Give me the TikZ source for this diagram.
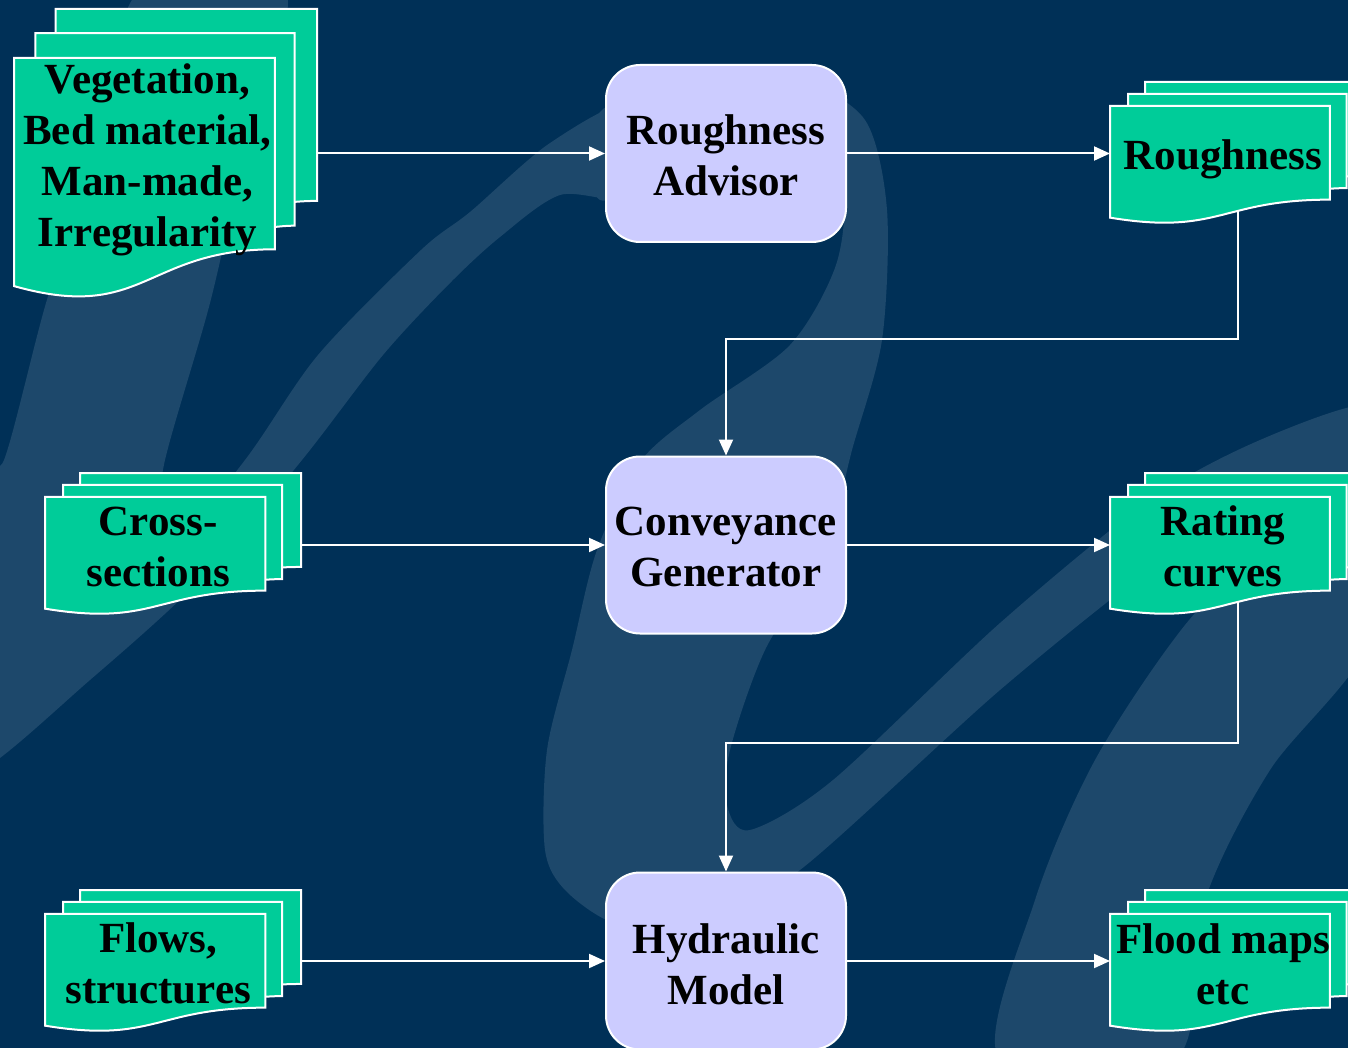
\documentclass[tikz,border=0pt]{standalone}
\usepackage{fontspec}
\setmainfont{Liberation Serif}
\usetikzlibrary{arrows.meta,calc}
\definecolor{bgblue}{RGB}{0,48,87}
\definecolor{swoosh}{RGB}{29,72,107}
\definecolor{docgreen}{RGB}{0,204,153}
\definecolor{procfill}{RGB}{204,204,255}
\pgfdeclarelayer{bglayer}
\pgfdeclarelayer{edgelayer}
\pgfsetlayers{bglayer,edgelayer,main}
\tikzset{
  bigfont/.style={font=\fontsize{43}{51}\selectfont\bfseries},
  proc/.style={draw=white, line width=2pt, fill=procfill, rounded corners=34pt,
    minimum width=240pt, minimum height=177pt, inner sep=0pt},
  proctext/.style={bigfont, align=center, inner sep=0pt},
  docfill/.style={fill=docgreen},
  docline/.style={draw=white, line width=2pt, line join=miter},
  doctext/.style={bigfont, align=center, inner sep=0pt},
  bbox/.style={inner sep=0pt, outer sep=0pt, draw=none, fill=none},
  conn/.style={draw=white, line width=2pt, -{Triangle[length=16pt,width=14pt]}},
  swooshfill/.style={fill=swoosh},
}
% name, x0, y0, width, height, text, text y-offset
\newcommand\mdoc[7]{%
  \begin{scope}[shift={(#2,#3)}, xscale=#4, yscale=#5]
    \fill[docfill] (0.137593,0.084028) -- (0.137593,0) -- (1,0) -- (1,0.666296)
      .. controls (0.962963,0.666296) and (0.925926,0.669769) .. (0.925926,0.669769)
      -- (0.925926,0.084028) -- cycle;
    \draw[docline] (0.137593,0.084028) -- (0.137593,0) -- (1,0) -- (1,0.666296)
      .. controls (0.962963,0.666296) and (0.925926,0.669769) .. (0.925926,0.669769);
    \fill[docfill] (0.070926,0.170139) -- (0.070926,0.084028) -- (0.925926,0.084028) -- (0.925926,0.752407)
      .. controls (0.893426,0.752407) and (0.860880,0.757037) .. (0.860880,0.757037)
      -- (0.860880,0.170139) -- cycle;
    \draw[docline] (0.070926,0.170139) -- (0.070926,0.084028) -- (0.925926,0.084028) -- (0.925926,0.752407)
      .. controls (0.893426,0.752407) and (0.860880,0.757037) .. (0.860880,0.757037);
    \filldraw[docfill, docline] (0,0.170139) -- (0.860880,0.170139) -- (0.860880,0.834352)
      .. controls (0.430463,0.834352) and (0.430463,1.089907) .. (0,0.962130) -- cycle;
  \end{scope}
  \node[bbox, minimum width=#4pt, minimum height=#5pt] (#1) at ({#2+#4/2},{#3+#5/2}) {};
  \node[doctext] (#1-text) at ({#2+0.43044*#4+3},{#3+0.502245*#5+#7}) {#6};
}
\begin{document}
\begin{tikzpicture}[x=1pt,y=-1pt]
\useasboundingbox (0,0) rectangle (1348,1048);
\begin{pgfonlayer}{bglayer}
  \fill[bgblue] (0,0) rectangle (1348,1048);
  % left descender
  \fill[swooshfill] plot[smooth cycle] coordinates {(140,-10) (285,-10) (245,150) (210,303) (165,460) (150,560) (100,640) (-20,730) (-20,470) (4,460) (46,303) (95,150)};
  % rising sweep into the loop
  \fill[swooshfill] plot[smooth cycle] coordinates {(-20,700) (60,640) (150,575) (245,460) (318,355) (421,250) (470,212) (550,143) (630,105) (630,195) (560,195) (500,237) (450,283) (383,355) (302,460) (200,580) (90,680) (-20,770)};
  % loop, downstroke and up-stroke
  \fill[swooshfill] plot[smooth cycle] coordinates {(600,112) (700,82) (800,82) (865,120) (887,210) (882,340) (852,450) (825,550) (765,650) (730,750) (727,805) (750,830) (833,780) (1000,623) (1150,500) (1260,440) (1370,405) (1370,470) (1260,505) (1160,562) (1000,690) (800,870) (700,922) (620,925) (567,892) (545,850) (547,750) (572,650) (597,550) (640,462) (700,410) (790,345) (836,265) (842,190) (800,150) (700,160) (600,200)};
  % right downstroke
  \fill[swooshfill] plot[smooth cycle] coordinates {(1370,480) (1370,640) (1270,770) (1205,900) (1175,1060) (1000,1060) (1035,900) (1095,760) (1185,625) (1280,530)};
\end{pgfonlayer}
\mdoc{veg}{14}{9}{303}{288}{Vegetation,\\Bed material,\\Man-made,\\Irregularity}{6}
\mdoc{cross}{45}{473}{256}{141}{Cross-\\sections}{3}
\mdoc{flows}{45}{890}{256}{141}{Flows,\\structures}{3}
\mdoc{rough}{1110}{82}{255.5}{141}{Roughness}{7}
\mdoc{rating}{1110}{473}{255.5}{141}{Rating\\curves}{3}
\mdoc{flood}{1110}{890}{255.5}{141}{Flood maps\\etc}{3}
\node[proc] (ra) at (726,153.5) {};
\node[proctext] (ra-text) at (726,155.5) {Roughness\\Advisor};
\node[proc] (cg) at (726,545) {};
\node[proctext] (cg-text) at (726,547) {Conveyance\\Generator};
\node[proc] (hm) at (726,961) {};
\node[proctext] (hm-text) at (726,964) {Hydraulic\\Model};
\begin{pgfonlayer}{edgelayer}
  \draw[conn] (veg.east |- ra.west) -- (ra.west);
  \draw[conn] (ra.east) -- (ra.east -| rough.west);
  \draw[conn] (cross.east |- cg.west) -- (cg.west);
  \draw[conn] (cg.east) -- (cg.east -| rating.west);
  \draw[conn] (flows.east |- hm.west) -- (hm.west);
  \draw[conn] (hm.east) -- (hm.east -| flood.west);
  \draw[conn] (rough.center) |- ($(rough.south)!0.5!(cg.north)$) -| (cg.north);
  \draw[conn] (rating.center) |- ($(rating.south)!0.5!(hm.north)$) -| (hm.north);
\end{pgfonlayer}
\end{tikzpicture}
\end{document}
